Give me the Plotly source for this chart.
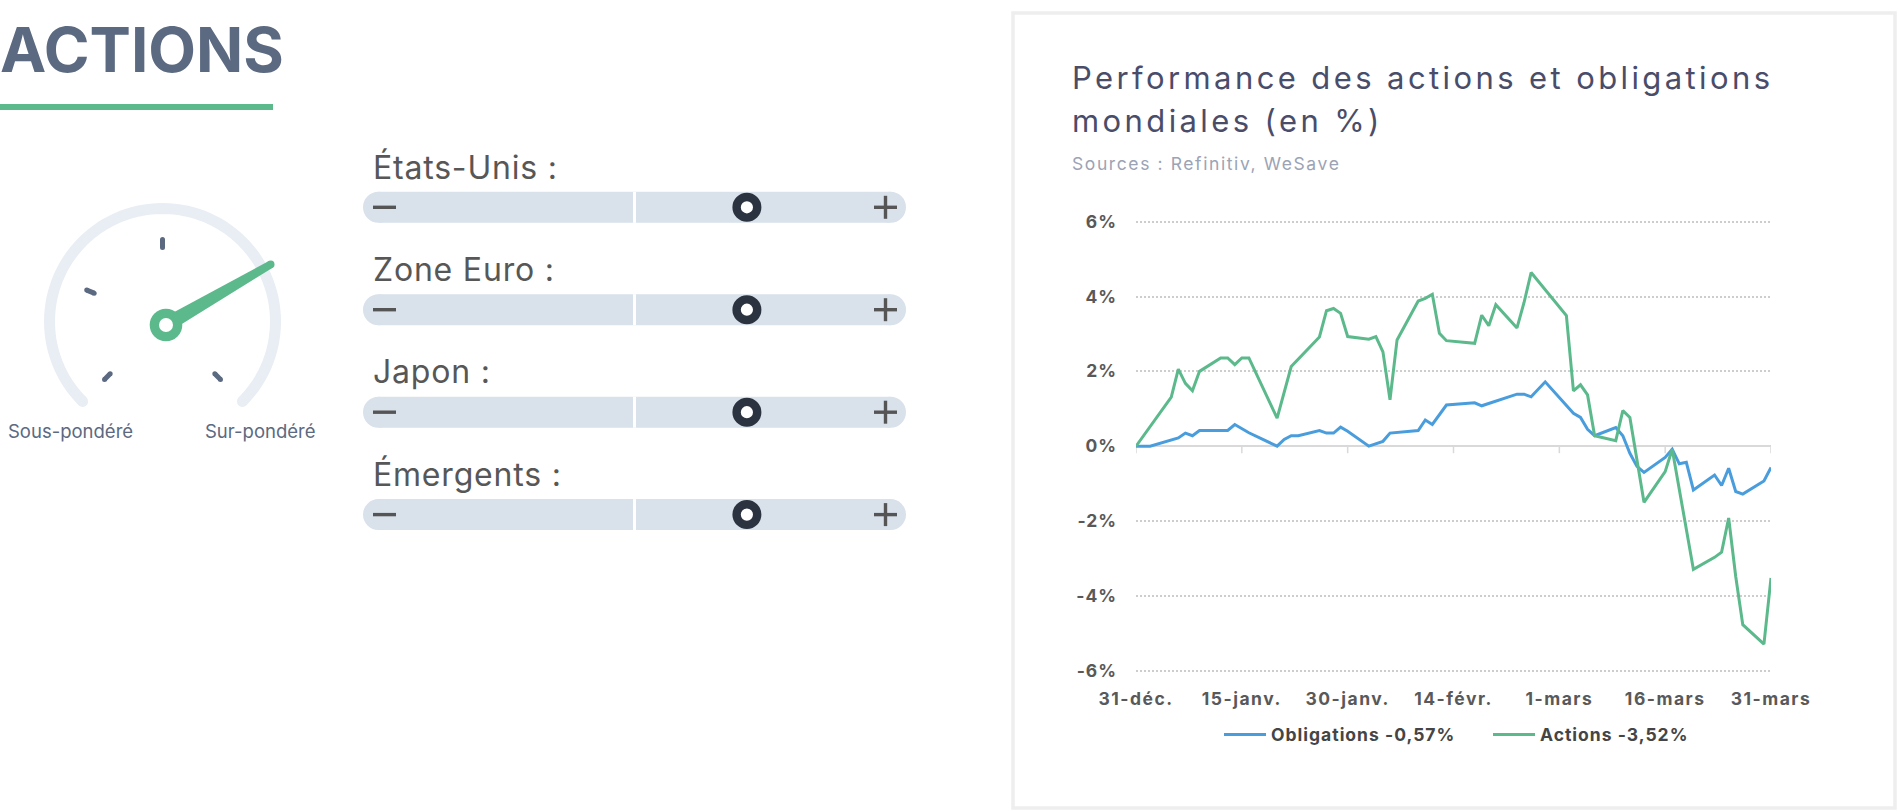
import math
import plotly.graph_objects as go

# ---------------- data ----------------
oblig_dates = ["2021-12-31", "2022-01-02", "2022-01-06", "2022-01-07", "2022-01-08", "2022-01-09",
               "2022-01-13", "2022-01-14", "2022-01-16", "2022-01-20", "2022-01-21", "2022-01-22",
               "2022-01-23", "2022-01-26", "2022-01-27", "2022-01-28", "2022-01-29", "2022-01-30",
               "2022-02-02", "2022-02-04", "2022-02-05", "2022-02-09", "2022-02-10", "2022-02-11",
               "2022-02-13", "2022-02-17", "2022-02-18", "2022-02-23", "2022-02-24", "2022-02-25",
               "2022-02-27", "2022-03-03", "2022-03-04", "2022-03-05", "2022-03-06", "2022-03-09",
               "2022-03-10", "2022-03-11", "2022-03-12", "2022-03-13", "2022-03-16", "2022-03-17",
               "2022-03-18", "2022-03-19", "2022-03-20", "2022-03-23", "2022-03-24", "2022-03-25",
               "2022-03-26", "2022-03-27", "2022-03-30", "2022-03-31"]
oblig_values = [0.00, 0.00, 0.22, 0.35, 0.28, 0.42,
                0.42, 0.58, 0.36, 0.00, 0.18, 0.28,
                0.28, 0.42, 0.35, 0.35, 0.51, 0.40,
                0.00, 0.13, 0.35, 0.42, 0.70, 0.58,
                1.10, 1.16, 1.08, 1.39, 1.39, 1.32,
                1.72, 0.88, 0.77, 0.45, 0.28, 0.50,
                0.28, -0.19, -0.54, -0.70, -0.30, -0.08,
                -0.47, -0.43, -1.17, -0.77, -1.05, -0.59,
                -1.21, -1.28, -0.93, -0.57]

actions_dates = ["2021-12-31", "2022-01-05", "2022-01-06", "2022-01-07", "2022-01-08", "2022-01-09",
                 "2022-01-12", "2022-01-13", "2022-01-14", "2022-01-15", "2022-01-16", "2022-01-20",
                 "2022-01-22", "2022-01-26", "2022-01-27", "2022-01-28", "2022-01-29", "2022-01-30",
                 "2022-02-02", "2022-02-03", "2022-02-04", "2022-02-05", "2022-02-06", "2022-02-09",
                 "2022-02-10", "2022-02-11", "2022-02-12", "2022-02-13", "2022-02-17", "2022-02-18",
                 "2022-02-19", "2022-02-20", "2022-02-23", "2022-02-24", "2022-02-25", "2022-03-02",
                 "2022-03-03", "2022-03-04", "2022-03-05", "2022-03-06", "2022-03-09", "2022-03-10",
                 "2022-03-11", "2022-03-13", "2022-03-16", "2022-03-17", "2022-03-20", "2022-03-23",
                 "2022-03-24", "2022-03-25", "2022-03-26", "2022-03-27", "2022-03-30", "2022-03-31"]
actions_values = [0.00, 1.31, 2.06, 1.68, 1.48, 2.00,
                  2.36, 2.36, 2.18, 2.36, 2.36, 0.75,
                  2.13, 2.92, 3.62, 3.68, 3.55, 2.93,
                  2.86, 2.93, 2.52, 1.24, 2.84, 3.88,
                  3.95, 4.06, 3.02, 2.82, 2.75, 3.50,
                  3.22, 3.78, 3.16, 3.84, 4.64, 3.49,
                  1.48, 1.64, 1.37, 0.28, 0.15, 0.95,
                  0.77, -1.50, -0.68, -0.08, -3.29, -2.97,
                  -2.83, -1.92, -3.48, -4.77, -5.29, -3.52]

series_names = ["Obligations -0,57%", "Actions -3,52%"]

x_tick_vals = ["2021-12-31", "2022-01-15", "2022-01-30", "2022-02-14", "2022-03-01", "2022-03-16", "2022-03-31"]
x_tick_text = ["31-déc.", "15-janv.", "30-janv.", "14-févr.", "1-mars", "16-mars", "31-mars"]
y_tick_vals = [-6, -4, -2, 0, 2, 4, 6]
y_tick_text = ["-6%", "-4%", "-2%", "0%", "2%", "4%", "6%"]

gauge_position = 0.722            # share of the gauge arc (Sous-pondéré -> Sur-pondéré)
region_labels = ["États-Unis :", "Zone Euro :", "Japon :", "Émergents :"]
region_positions = [0.707, 0.707, 0.707, 0.707]   # share of slider track

# ---------------- styling ----------------
W, H = 1898, 811
FONT = "Inter"
GREEN = "#5bb98b"
BLUE = "#4a9ddc"
SLATE = "#5b6981"


def X(px):
    return px / W


def Y(py):
    return 1 - py / H


def ls(text, px):
    return '<span style="letter-spacing:%spx">%s</span>' % (px, text)


shapes = []
annotations = []


def circle(cx, cy, r, fill, line_color=None, line_width=0, layer="above"):
    shapes.append(dict(type="circle", xref="paper", yref="paper",
                       x0=X(cx - r), x1=X(cx + r), y0=Y(cy + r), y1=Y(cy - r),
                       fillcolor=fill, line=dict(color=line_color or fill, width=line_width),
                       layer=layer))


def seg(x0, y0, x1, y1, color, width, layer="above"):
    shapes.append(dict(type="line", xref="paper", yref="paper",
                       x0=X(x0), y0=Y(y0), x1=X(x1), y1=Y(y1),
                       line=dict(color=color, width=width), layer=layer))


def text(t, x, y, size, color, xanchor="left", weight=400):
    annotations.append(dict(text=t, x=X(x), y=Y(y), xref="paper", yref="paper",
                            xanchor=xanchor, yanchor="middle", showarrow=False,
                            font=dict(family=FONT, size=size, color=color, weight=weight)))


# ---- left header ----
text("ACTIONS", -2, 49.5, 62, SLATE, weight=700)
shapes.append(dict(type="rect", xref="paper", yref="paper", x0=X(0), x1=X(273), y0=Y(110), y1=Y(104),
                   fillcolor=GREEN, line=dict(width=0)))

# ---- gauge ----
gcx, gcy, gr = 162.5, 321.5, 113
pts = []
for k in range(0, 91):
    a = math.radians(-135 + 3 * k)
    pts.append((gcx + gr * math.sin(a), gcy - gr * math.cos(a)))
path = "M " + " L ".join("%f,%f" % (X(px), Y(py)) for px, py in pts)
shapes.append(dict(type="path", xref="paper", yref="paper", path=path,
                   line=dict(color="#e9eef4", width=11)))
for px, py in (pts[0], pts[-1]):
    circle(px, py, 5.5, "#e9eef4")
for ang in (-135, -67.5, 0, 67.5, 135):
    a = math.radians(ang)
    p0 = (gcx + 74 * math.sin(a), gcy - 74 * math.cos(a))
    p1 = (gcx + 82 * math.sin(a), gcy - 82 * math.cos(a))
    if abs(ang - (-135 + 270 * gauge_position)) < 20:
        continue
    seg(p0[0], p0[1], p1[0], p1[1], SLATE, 5)
    circle(p0[0], p0[1], 2.5, SLATE)
    circle(p1[0], p1[1], 2.5, SLATE)

# needle
pcx, pcy = 166, 325
na = math.radians(-135 + 270 * gauge_position)
ux, uy = math.sin(na), -math.cos(na)
nx, ny = -uy, ux
L = 121
tip = (pcx + L * ux, pcy + L * uy)
poly = [(pcx + 7.5 * nx, pcy + 7.5 * ny), (tip[0] + 3.8 * nx, tip[1] + 3.8 * ny),
        (tip[0] - 3.8 * nx, tip[1] - 3.8 * ny), (pcx - 7.5 * nx, pcy - 7.5 * ny)]
shapes.append(dict(type="path", xref="paper", yref="paper",
                   path="M " + " L ".join("%f,%f" % (X(a), Y(b)) for a, b in poly) + " Z",
                   fillcolor=GREEN, line=dict(width=0)))
circle(tip[0], tip[1], 3.8, GREEN)
circle(pcx, pcy, 16.3, GREEN)
circle(pcx, pcy, 7, "white")

text("Sous-pondéré", 70, 431.3, 18.5, SLATE, xanchor="center")
text("Sur-pondéré", 260, 431.3, 18.5, SLATE, xanchor="center")

# ---- sliders ----
bx0, bx1, bh = 363, 906, 31
row_centers = [207.3, 309.7, 412.2, 514.6]
for lab, pos, cy in zip(region_labels, region_positions, row_centers):
    shapes.append(dict(type="rect", xref="paper", yref="paper",
                       x0=X(bx0 + bh / 2), x1=X(bx1 - bh / 2), y0=Y(cy + bh / 2), y1=Y(cy - bh / 2),
                       fillcolor="#d9e1eb", line=dict(width=0)))
    circle(bx0 + bh / 2, cy, bh / 2, "#d9e1eb")
    circle(bx1 - bh / 2, cy, bh / 2, "#d9e1eb")
    mid = (bx0 + bx1) / 2
    seg(mid, cy - bh / 2, mid, cy + bh / 2, "white", 3)
    seg(373, cy, 396, cy, "#555555", 3.4)
    seg(874, cy, 897, cy, "#555555", 3.4)
    seg(885.5, cy - 11.5, 885.5, cy + 11.5, "#555555", 3.4)
    kx = bx0 + pos * (bx1 - bx0)
    circle(kx, cy, 10.3, "white", "#2b3341", 8.4)
    text(ls(lab, 0.8), 371, cy - 40.3, 32, "#575757")

# ---- chart panel ----
shapes.append(dict(type="rect", xref="paper", yref="paper", x0=X(1013), x1=X(1895), y0=Y(808), y1=Y(13),
                   fillcolor="rgba(0,0,0,0)", line=dict(color="#eeeeee", width=3.5), layer="below"))
text(ls("Performance des actions et obligations", 3.4), 1070, 77.5, 31, "#4a4d69")
text(ls("mondiales (en %)", 3.4), 1070, 120.5, 31, "#4a4d69")
text(ls("Sources : Refinitiv, WeSave", 1.6), 1070, 163.7, 17.5, "#9ba3b5")

# small ticks under the zero line at each date tick
for d in x_tick_vals:
    shapes.append(dict(type="line", xref="x", yref="y", xsizemode="scaled", ysizemode="pixel",
                       yanchor=0, x0=d, x1=d, y0=0, y1=-7,
                       line=dict(color="#d9d9d9", width=1.5), layer="below"))

fig = go.Figure()
fig.add_trace(go.Scatter(x=oblig_dates, y=oblig_values, mode="lines", name=ls(series_names[0], 1.0),
                         line=dict(color=BLUE, width=3), hoverinfo="skip"))
fig.add_trace(go.Scatter(x=actions_dates, y=actions_values, mode="lines", name=ls(series_names[1], 1.0),
                         line=dict(color=GREEN, width=3), hoverinfo="skip"))

tick_font = dict(family=FONT, size=17.5, color="#595959", weight=700)
fig.update_layout(
    width=W, height=H, autosize=False,
    margin=dict(l=0, r=0, t=0, b=0, pad=0, autoexpand=False),
    paper_bgcolor="white", plot_bgcolor="white",
    shapes=shapes, annotations=annotations,
    showlegend=True,
    legend=dict(orientation="h", x=X(1219), xanchor="left", y=Y(734.7), yanchor="middle",
                itemwidth=42, entrywidth=212, entrywidthmode="pixels",
                font=dict(family=FONT, size=17.5, color="#454545", weight=700),
                bgcolor="rgba(0,0,0,0)"),
    xaxis=dict(domain=[X(1136), X(1771)], type="date", range=["2021-12-31", "2022-03-31"],
               tickvals=x_tick_vals, ticktext=[ls(t, 1.5) for t in x_tick_text],
               showgrid=False, zeroline=False, showline=False, ticks="", automargin=False,
               tickfont=tick_font, ticklabelstandoff=14, fixedrange=True),
    yaxis=dict(domain=[Y(672.6), Y(219.8)], range=[-6.05, 6.05],
               tickvals=y_tick_vals, ticktext=[ls(t, 1) for t in y_tick_text],
               showgrid=True, gridcolor="#cdcdcd", gridwidth=2, griddash="2px,2px",
               zeroline=True, zerolinecolor="#d9d9d9", zerolinewidth=1.5, automargin=False,
               showline=False, ticks="", tickfont=tick_font, ticklabelstandoff=18, fixedrange=True),
)

fig.write_html("out.html", config={"displayModeBar": False, "responsive": False},
               post_script="document.body.style.margin='0';document.body.style.overflow='hidden';")
